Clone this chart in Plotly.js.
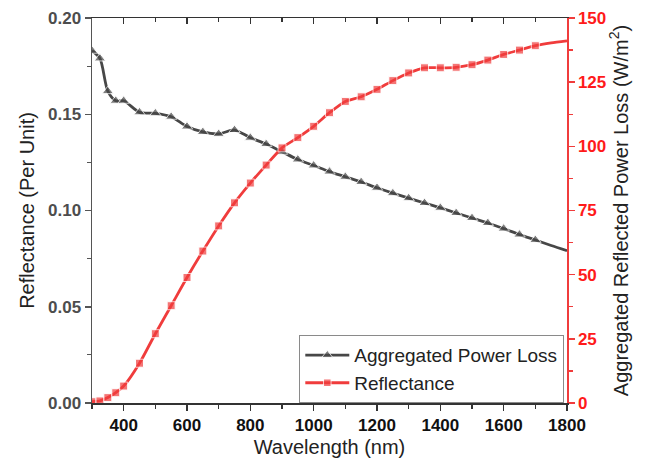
<!DOCTYPE html>
<html>
<head>
<meta charset="utf-8">
<script src="https://cdn.plot.ly/plotly-3.0.1.min.js"></script>
<style>html,body{margin:0;padding:0;background:#fff;}#chart{width:662px;height:467px;}</style>
</head>
<body>
<div id="chart"></div>
<script>
// Wavelength (nm)
const wavelength = [300, 325, 350, 375, 400, 450, 500, 550, 600, 650, 700, 750, 800, 850, 900, 950, 1000, 1050, 1100, 1150, 1200, 1250, 1300, 1350, 1400, 1450, 1500, 1550, 1600, 1650, 1700, 1750, 1800];
// Black series (left axis, per unit)
const powerLoss = [0.183, 0.179, 0.162, 0.157, 0.157, 0.151, 0.1505, 0.1487, 0.1436, 0.1408, 0.1398, 0.1418, 0.1378, 0.1345, 0.1305, 0.1265, 0.1234, 0.1202, 0.1175, 0.1148, 0.1118, 0.109, 0.1064, 0.1039, 0.1014, 0.0987, 0.0961, 0.0935, 0.0906, 0.0875, 0.0847, 0.0818, 0.0791];
// Red series (right axis, W/m^2)
const reflectance = [0.5, 0.8, 2.1, 4.0, 6.6, 15.5, 27.0, 37.9, 48.9, 59.2, 69.0, 78.0, 85.7, 92.7, 99.4, 103.4, 107.8, 113.1, 117.5, 119.3, 122.2, 125.6, 128.6, 130.6, 130.6, 130.8, 131.8, 133.6, 135.8, 137.5, 139.2, 140.3, 141.1];
// Markers shown up to 1700 nm only
const markerShown = wavelength.map(w => w <= 1700 ? 1 : 0);

const FONT = 'Liberation Sans, Arial, sans-serif';
const BLACK = '#474747';
const RED = '#f03c3c';

const traces = [
  {
    x: wavelength, y: powerLoss, name: 'Aggregated Power Loss',
    type: 'scatter', mode: 'lines+markers', xaxis: 'x', yaxis: 'y',
    line: {color: BLACK, width: 2.8, shape: 'spline', smoothing: 0.8},
    marker: {symbol: 'triangle-up', color: BLACK, size: markerShown.map(m => m ? 10 : 0)}
  },
  {
    x: wavelength, y: reflectance, name: 'Reflectance',
    type: 'scatter', mode: 'lines+markers', xaxis: 'x', yaxis: 'y2',
    line: {color: RED, width: 2.8, shape: 'spline', smoothing: 0.6},
    marker: {symbol: 'square', color: RED, size: markerShown.map(m => m ? 8 : 0)}
  },
  {
    x: [wavelength[0]], y: [null], xaxis: 'x2', yaxis: 'y', name: ' ',
    type: 'scatter', mode: 'lines', showlegend: false, hoverinfo: 'skip'
  }
];

const layout = {
  width: 662, height: 467,
  margin: {l: 92, r: 95, t: 18, b: 64},
  paper_bgcolor: '#fff', plot_bgcolor: '#fff',
  font: {family: FONT, color: '#222'},
  showlegend: true,
  legend: {
    x: 0.436, y: 0, xanchor: 'left', yanchor: 'bottom',
    bordercolor: '#8a8a8a', borderwidth: 1.2, bgcolor: '#fff',
    font: {family: FONT, size: 19, color: '#222'},
    tracegroupgap: 0, itemwidth: 44
  },
  xaxis: {
    range: [300, 1800], showgrid: false, zeroline: false,
    showline: true, linecolor: '#333', linewidth: 1.5,
    ticks: 'outside', ticklen: 6, tickwidth: 1.5, tickcolor: '#333',
    tick0: 0, dtick: 200,
    minor: {dtick: 100, ticklen: 4, tickwidth: 1.2, tickcolor: '#333', ticks: 'outside'},
    tickfont: {family: FONT, size: 17, color: '#111', weight: 'bold'},
    title: {text: 'Wavelength (nm)', font: {family: FONT, size: 20, color: '#222'}, standoff: 6},
    anchor: 'y'
  },
  xaxis2: {
    range: [300, 1800], overlaying: 'x', side: 'top', anchor: 'y',
    showgrid: false, zeroline: false,
    showline: true, linecolor: '#333', linewidth: 1.5,
    ticks: 'inside', ticklen: 6, tickwidth: 1.5, tickcolor: '#333',
    tick0: 0, dtick: 200, showticklabels: false,
    minor: {dtick: 100, ticklen: 4, tickwidth: 1.2, tickcolor: '#333', ticks: 'inside'}
  },
  yaxis: {
    range: [0, 0.2], showgrid: false, zeroline: false,
    showline: true, linecolor: '#555', linewidth: 1.5,
    ticks: 'outside', ticklen: 6, tickwidth: 1.5, tickcolor: '#555',
    tick0: 0, dtick: 0.05, tickformat: '.2f',
    minor: {dtick: 0.025, ticklen: 4, tickwidth: 1.2, tickcolor: '#555', ticks: 'outside'},
    tickfont: {family: FONT, size: 17, color: '#4d4d4d', weight: 'bold'},
    title: {text: 'Reflectance (Per Unit)', font: {family: FONT, size: 20, color: '#222'}, standoff: 8}
  },
  yaxis2: {
    range: [0, 150], overlaying: 'y', side: 'right', anchor: 'x',
    showgrid: false, zeroline: false,
    showline: true, linecolor: RED, linewidth: 1.5,
    ticks: 'outside', ticklen: 6, tickwidth: 1.5, tickcolor: RED,
    tick0: 0, dtick: 25,
    minor: {dtick: 12.5, ticklen: 4, tickwidth: 1.2, tickcolor: RED, ticks: 'outside'},
    tickfont: {family: FONT, size: 17, color: '#ff1a1a', weight: 'bold'},
    title: {text: 'Aggregated Reflected Power Loss (W/m<sup>2</sup>)', font: {family: FONT, size: 20, color: '#222'}, standoff: 8}
  }
};

Plotly.newPlot('chart', traces, layout, {displayModeBar: false, staticPlot: true});
</script>
</body>
</html>
